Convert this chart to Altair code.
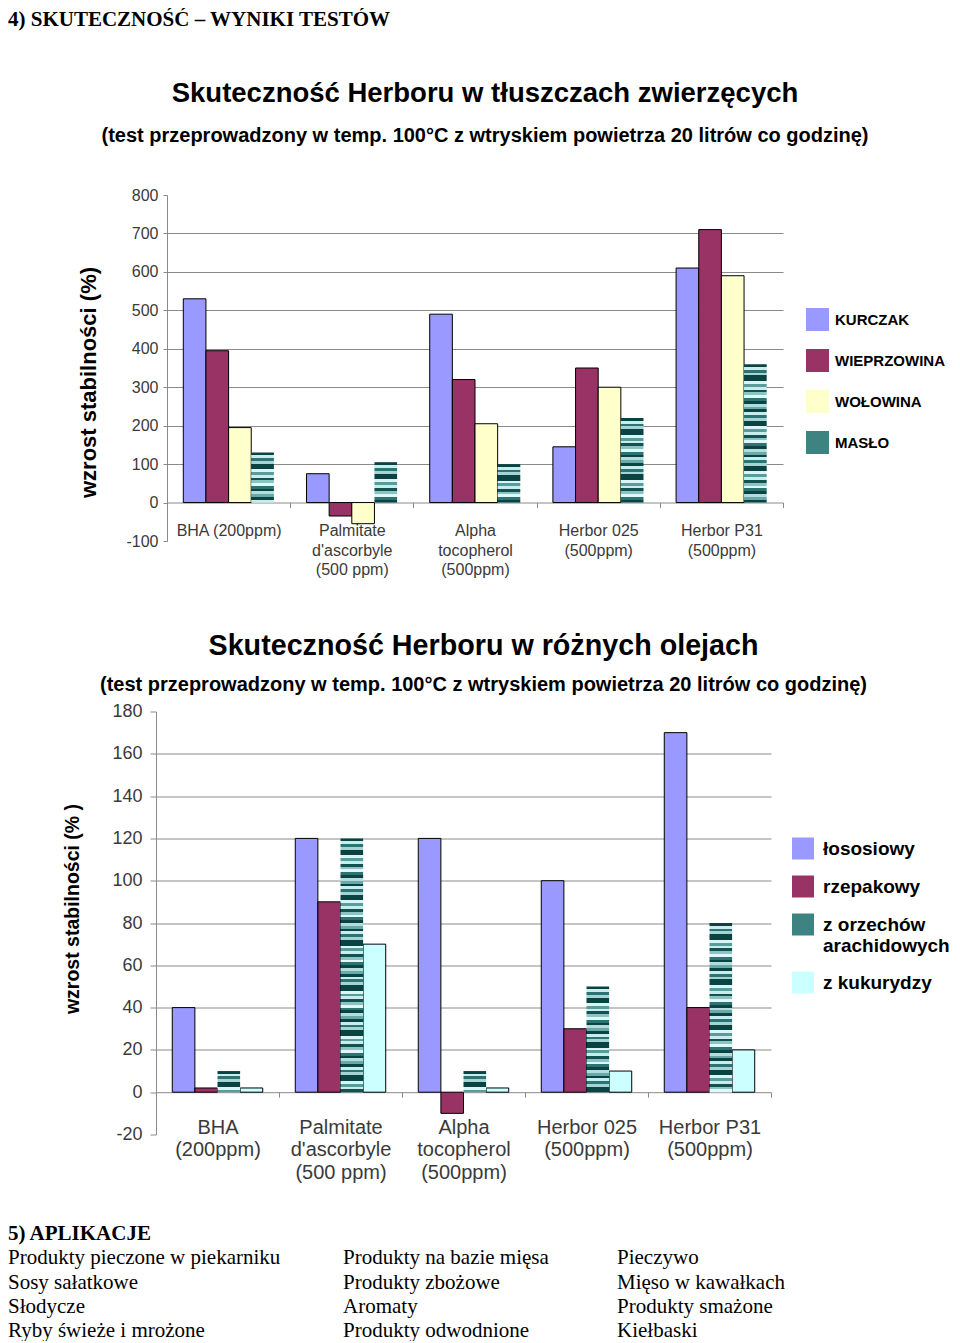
import altair as alt
import pandas as pd

# ---------------- data ----------------
HEADER = "4) SKUTECZNOŚĆ – WYNIKI TESTÓW"
TITLE1 = "Skuteczność Herboru w tłuszczach zwierzęcych"
SUBTITLE1 = "(test przeprowadzony w temp. 100°C z wtryskiem powietrza 20 litrów co godzinę)"
TITLE2 = "Skuteczność Herboru w różnych olejach"
SUBTITLE2 = "(test przeprowadzony w temp. 100°C z wtryskiem powietrza 20 litrów co godzinę)"
YTITLE1 = "wzrost stabilności (%)"
YTITLE2 = "wzrost stabilności (% )"

CATS1 = ["BHA (200ppm)", "Palmitate|d'ascorbyle|(500 ppm)", "Alpha|tocopherol|(500ppm)",
         "Herbor 025|(500ppm)", "Herbor P31|(500ppm)"]
SERIES1 = ["KURCZAK", "WIEPRZOWINA", "WOŁOWINA", "MASŁO"]
KURCZAK = [530, 75, 490, 145, 610]
WIEPRZOWINA = [395, -35, 320, 350, 710]
WOLOWINA = [195, -55, 205, 300, 590]
MASLO = [130, 105, 100, 220, 360]
Y1_TICKS = [-100, 0, 100, 200, 300, 400, 500, 600, 700, 800]

CATS2 = ["BHA|(200ppm)", "Palmitate|d'ascorbyle|(500 ppm)", "Alpha|tocopherol|(500ppm)",
         "Herbor 025|(500ppm)", "Herbor P31|(500ppm)"]
SERIES2 = ["łososiowy", "rzepakowy", "z orzechów arachidowych", "z kukurydzy"]
LOSOSIOWY = [40, 120, 120, 100, 170]
RZEPAKOWY = [2, 90, -10, 30, 40]
ORZECHOW = [10, 120, 10, 50, 80]
KUKURYDZY = [2, 70, 2, 10, 20]
Y2_TICKS = [-20, 0, 20, 40, 60, 80, 100, 120, 140, 160, 180]

FOOT_HEAD = "5) APLIKACJE"
FOOT_COL1 = ["Produkty pieczone w piekarniku", "Sosy sałatkowe", "Słodycze", "Ryby świeże i mrożone"]
FOOT_COL2 = ["Produkty na bazie mięsa", "Produkty zbożowe", "Aromaty", "Produkty odwodnione"]
FOOT_COL3 = ["Pieczywo", "Mięso w kawałkach", "Produkty smażone", "Kiełbaski"]

# ---------------- style ----------------
COLORS1 = ["#9999FF", "#993366", "#FFFFCC", "#3f8282"]
COLORS2 = ["#9999FF", "#993366", "#3f8282", "#CCFFFF"]
STRIPE_COLORS = ["#0b4343", "#c9eded", "#2c7474", "#a6d3d3", "#0b4343", "#0b4343",
                 "#d9f5f5", "#5a9c9c", "#c9eded", "#145252", "#8cc4c4", "#e2f7f7",
                 "#2c7474", "#0b4343", "#b3dcdc", "#6aa9a9"]
GRID = "#8a8a8a"
SANS = "Liberation Sans"
SERIF = "Liberation Serif"


def stripes(n):
    stops = []
    for i in range(n):
        c = STRIPE_COLORS[i % len(STRIPE_COLORS)]
        stops.append({"offset": i / n, "color": c})
        stops.append({"offset": (i + 1) / n, "color": c})
    return {"gradient": "linear", "x1": 0, "y1": 0, "x2": 0, "y2": 1, "stops": stops}


def long_df(cats, series, columns):
    rows = []
    for s, vals in zip(series, columns):
        for c, v in zip(cats, vals):
            rows.append({"cat": c, "series": s, "value": v})
    return pd.DataFrame(rows)


def bar_chart(cats, series, columns, colors, striped, ydom, yticks, w, h, o):
    df = long_df(cats, series, columns)
    x = alt.X("cat:N", sort=cats, title=None,
              scale=alt.Scale(domain=cats, paddingInner=0, paddingOuter=0,
                              range=[o["left"], w]),
              axis=alt.Axis(labelAngle=0, labelExpr="split(datum.label, '|')",
                            tickBand="extent", offset=o["xoffset"], domainColor=GRID,
                            tickColor=GRID, tickSize=5, labelPadding=o["xpad"],
                            labelFontSize=o["xfs"], labelLineHeight=o["xlh"], labelFont=SANS,
                            labelColor="#3a3a3a", labelLimit=300, labelOverlap=False, grid=False))
    xo = alt.XOffset("series:N", sort=series,
                     scale=alt.Scale(domain=series, paddingInner=0, paddingOuter=0.72))
    y = alt.Y("value:Q", stack=None,
              scale=alt.Scale(domain=ydom, nice=False, zero=False),
              axis=alt.Axis(values=yticks, title=o["ytitle"], titleFont=SANS, offset=-o["left"],
                            labelExpr="datum.value < 0 ? '-' + abs(datum.value) : '' + datum.value",
                            titleFontSize=o["ytfs"], titleFontWeight="bold", titleColor="black",
                            titleAngle=270, titleAlign="center", titleBaseline="middle",
                            titleX=o["titleX"], titleY=o["titleY"],
                            labelFontSize=o["yfs"], labelFont=SANS, labelColor="#3a3a3a",
                            labelPadding=o["ypad"], tickSize=o["ytick"], tickColor=GRID,
                            domainColor=GRID, gridColor=GRID,
                            gridOpacity={"condition": {"test": o["gridtest"], "value": 0},
                                         "value": 1}))
    color = alt.Color("series:N", sort=series,
                      scale=alt.Scale(domain=series, range=colors),
                      legend=alt.Legend(orient="none", direction="vertical", title=None,
                                        legendX=o["lx"], legendY=o["ly"], symbolType="square",
                                        symbolSize=o["ls"] ** 2, symbolStrokeWidth=0,
                                        symbolOpacity=1,
                                        labelFont=SANS, labelFontSize=o["lfs"],
                                        labelFontWeight="bold", labelColor="black",
                                        labelOffset=o["loff"], rowPadding=o["lrow"],
                                        labelLimit=300,
                                        labelExpr="datum.label == 'z orzechów arachidowych' ? ['z orzechów', 'arachidowych'] : datum.label"))
    base = alt.Chart(df).transform_filter(
        alt.datum.series != striped
    ).mark_bar(stroke="black", strokeWidth=1).encode(x=x, xOffset=xo, y=y, color=color)
    layers = [base]
    vals = dict(zip(cats, columns[series.index(striped)]))
    for c in cats:
        n = max(4, int(round(vals[c] * o["stripek"])))
        layer = alt.Chart(df).transform_filter(
            (alt.datum.series == striped) & (alt.datum.cat == c)
        ).mark_bar(color=stripes(n), strokeWidth=0).encode(x=x, xOffset=xo, y=y)
        layers.append(layer)
    return alt.layer(*layers).properties(
        width=w, height=h,
        title=alt.TitleParams(o["title"], subtitle=o["subtitle"], anchor="middle", frame="group",
                              dx=o["tdx"], font=SANS, fontSize=o["tfs"], fontWeight="bold",
                              color="black", subtitleFont=SANS, subtitleFontSize=20,
                              subtitleFontWeight="bold", subtitleColor="black",
                              subtitlePadding=o["subpad"], offset=o["toff"]))


# chart 1 plot spans page x 167..783, chart 2 spans 156..771 (shared left edge 156)
chart1 = bar_chart(
    CATS1, SERIES1, [KURCZAK, WIEPRZOWINA, WOLOWINA, MASLO], COLORS1, "MASŁO",
    [-100, 800], Y1_TICKS, 627, 346,
    dict(left=11, xoffset=-38.5, xpad=15, xfs=16, xlh=19.5, ytitle=YTITLE1, ytfs=22, titleX=-79,
         titleY=187, yfs=16, ypad=5, ytick=4, gridtest="datum.value <= 0 || datum.value >= 800",
         lx=650, ly=113, ls=23, lfs=15, loff=6, lrow=18, stripek=1 / 7.3,
         title=TITLE1, subtitle=SUBTITLE1, tfs=27.5, tdx=15.5, subpad=19, toff=41))

chart2 = bar_chart(
    CATS2, SERIES2, [LOSOSIOWY, RZEPAKOWY, ORZECHOW, KUKURYDZY], COLORS2,
    "z orzechów arachidowych",
    [-20, 180], Y2_TICKS, 615, 423,
    dict(left=0, xoffset=-42.3, xpad=20, xfs=20, xlh=22.5, ytitle=YTITLE2, ytfs=19.5, titleX=-84,
         titleY=197, yfs=18, ypad=8, ytick=6, gridtest="datum.value <= 0 || datum.value >= 180",
         lx=636, ly=126, ls=22, lfs=19, loff=9, lrow=16, stripek=1 / 1.33,
         title=TITLE2, subtitle=SUBTITLE2, tfs=28.7, tdx=20, subpad=14, toff=8))

# footer
frows = [{"col": 0, "row": 0, "text": FOOT_HEAD}]
for ci, col in enumerate([FOOT_COL1, FOOT_COL2, FOOT_COL3]):
    for ri, t in enumerate(col):
        frows.append({"col": ci, "row": ri + 1, "text": t})
fdf = pd.DataFrame(frows)
fy = alt.Y("row:O", axis=None, scale=alt.Scale(type="point", domain=[0, 1, 2, 3, 4],
                                                range=[-71, 26], padding=0))
flayers = [
    alt.Chart(fdf).transform_filter(alt.datum.row == 0).mark_text(
        font=SERIF, fontSize=21, fontWeight="bold", align="left", baseline="middle",
        color="black").encode(x=alt.value(-148), y=fy, text="text:N")
]
for ci, xp in enumerate([-148, 187, 461]):
    flayers.append(
        alt.Chart(fdf).transform_filter((alt.datum.row > 0) & (alt.datum.col == ci)).mark_text(
            font=SERIF, fontSize=21, align="left", baseline="middle", color="black"
        ).encode(x=alt.value(xp), y=fy, text="text:N"))
footer = alt.layer(*flayers).properties(width=615, height=30)

chart = alt.vconcat(chart1, chart2, footer, spacing=170.5, bounds="flush").properties(
    title=alt.TitleParams(HEADER, anchor="start", frame="bounds", font=SERIF, fontSize=21,
                          fontWeight="bold", color="black", offset=50),
    padding=0, background="white",
).resolve_scale(
    color="independent", x="independent", y="independent", xOffset="independent"
).resolve_legend(color="independent").configure_view(stroke=None)

chart.save("out.html", embed_options={"renderer": "svg", "actions": False})
